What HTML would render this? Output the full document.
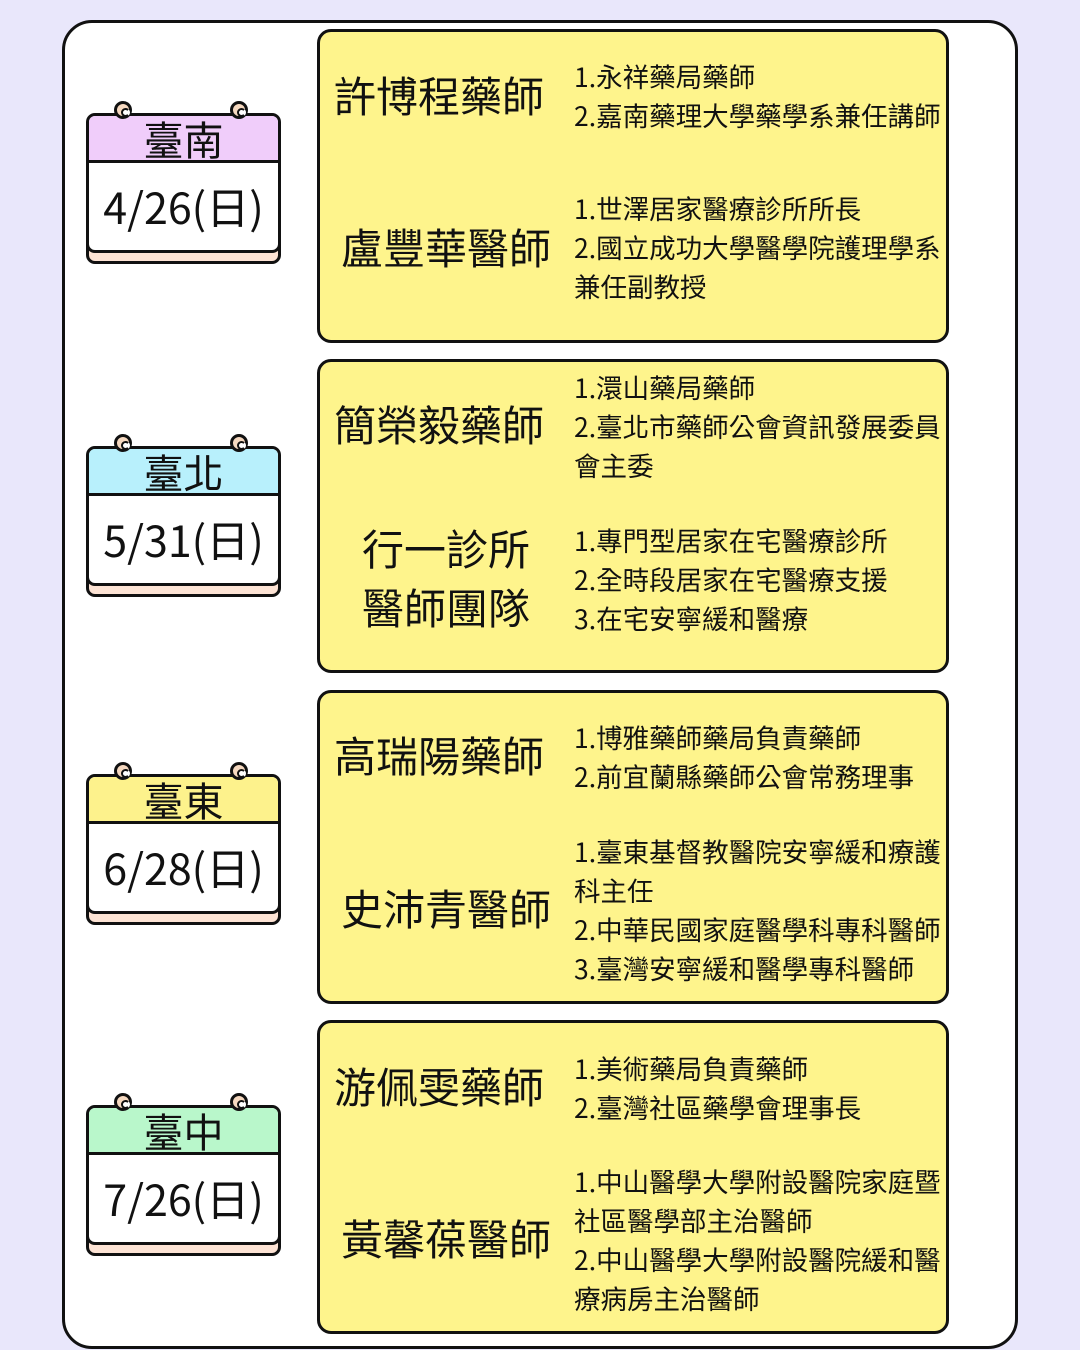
<!DOCTYPE html>
<html><head><meta charset="utf-8"><style>
*{margin:0;padding:0;box-sizing:border-box}
body{width:1080px;height:1350px;background:#e9e7fb;position:relative;overflow:hidden;font-family:"Noto Sans CJK TC","Liberation Sans",sans-serif;color:#111}
.panel{position:absolute;left:62px;top:20px;width:956px;height:1329px;background:#fff;border:3px solid #111;border-radius:30px}
.box{position:absolute;left:317px;width:632px;height:314px;background:#fef48c;border:3px solid #111;border-radius:14px}
.t{position:absolute;white-space:nowrap;line-height:39px;font-size:26.5px}
.n{position:absolute;white-space:nowrap;font-size:42px;line-height:60px;width:230px;text-align:center}
.cal{position:absolute;left:86px;width:195px;height:151px}
.cal .bot{position:absolute;left:0;top:20px;width:195px;height:131px;background:#fde3d4;border:3px solid #111;border-radius:9px}
.cal .main{position:absolute;left:0;top:0;width:195px;height:140px;background:#fff;border:3px solid #111;border-radius:9px;overflow:hidden}
.cal .hd{height:47px;border-bottom:3px solid #111;font-size:40px;line-height:44px;text-align:center}
.cal .dt{font-size:43px;line-height:86px;text-align:center}
.ring{position:absolute;top:-12px;width:18px;height:18px;border:3px solid #111;border-radius:50%;background:#f6d9c0}
.ring::after{content:"";position:absolute;left:4px;top:4px;width:5px;height:5px;border:2px solid #111;border-radius:50%;border-right-color:transparent;background:#fff}
</style></head><body>
<div class="panel"></div>

<div class="box" style="top:29px"></div>
<div class="box" style="top:359px"></div>
<div class="box" style="top:690px"></div>
<div class="box" style="top:1020px"></div>

<div class="cal" style="top:113px"><div class="bot"></div><div class="main"><div class="hd" style="background:#f0cdfa">臺南</div><div class="dt">4/26(日)</div></div><div class="ring" style="left:28px"></div><div class="ring" style="left:144px"></div></div>
<div class="cal" style="top:446px"><div class="bot"></div><div class="main"><div class="hd" style="background:#b8f0fc">臺北</div><div class="dt">5/31(日)</div></div><div class="ring" style="left:28px"></div><div class="ring" style="left:144px"></div></div>
<div class="cal" style="top:774px"><div class="bot"></div><div class="main"><div class="hd" style="background:#fdf28c">臺東</div><div class="dt">6/28(日)</div></div><div class="ring" style="left:28px"></div><div class="ring" style="left:144px"></div></div>
<div class="cal" style="top:1105px"><div class="bot"></div><div class="main"><div class="hd" style="background:#b9f7cb">臺中</div><div class="dt">7/26(日)</div></div><div class="ring" style="left:28px"></div><div class="ring" style="left:144px"></div></div>

<div class="n" style="left:324px;top:65px">許博程藥師</div>
<div class="n" style="left:331px;top:217px">盧豐華醫師</div>
<div class="n" style="left:324px;top:394px">簡榮毅藥師</div>
<div class="n" style="left:331px;top:518px">行一診所</div>
<div class="n" style="left:331px;top:577px">醫師團隊</div>
<div class="n" style="left:324px;top:725px">高瑞陽藥師</div>
<div class="n" style="left:331px;top:878px">史沛青醫師</div>
<div class="n" style="left:324px;top:1056px">游佩雯藥師</div>
<div class="n" style="left:331px;top:1208px">黃馨葆醫師</div>

<div class="t" style="left:574px;top:56px">1.永祥藥局藥師<br>2.嘉南藥理大學藥學系兼任講師</div>
<div class="t" style="left:574px;top:188px">1.世澤居家醫療診所所長<br>2.國立成功大學醫學院護理學系<br>兼任副教授</div>
<div class="t" style="left:574px;top:367px">1.澴山藥局藥師<br>2.臺北市藥師公會資訊發展委員<br>會主委</div>
<div class="t" style="left:574px;top:520px">1.專門型居家在宅醫療診所<br>2.全時段居家在宅醫療支援<br>3.在宅安寧緩和醫療</div>
<div class="t" style="left:574px;top:717px">1.博雅藥師藥局負責藥師<br>2.前宜蘭縣藥師公會常務理事</div>
<div class="t" style="left:574px;top:831px">1.臺東基督教醫院安寧緩和療護<br>科主任<br>2.中華民國家庭醫學科專科醫師<br>3.臺灣安寧緩和醫學專科醫師</div>
<div class="t" style="left:574px;top:1048px">1.美術藥局負責藥師<br>2.臺灣社區藥學會理事長</div>
<div class="t" style="left:574px;top:1161px">1.中山醫學大學附設醫院家庭暨<br>社區醫學部主治醫師<br>2.中山醫學大學附設醫院緩和醫<br>療病房主治醫師</div>
</body></html>
